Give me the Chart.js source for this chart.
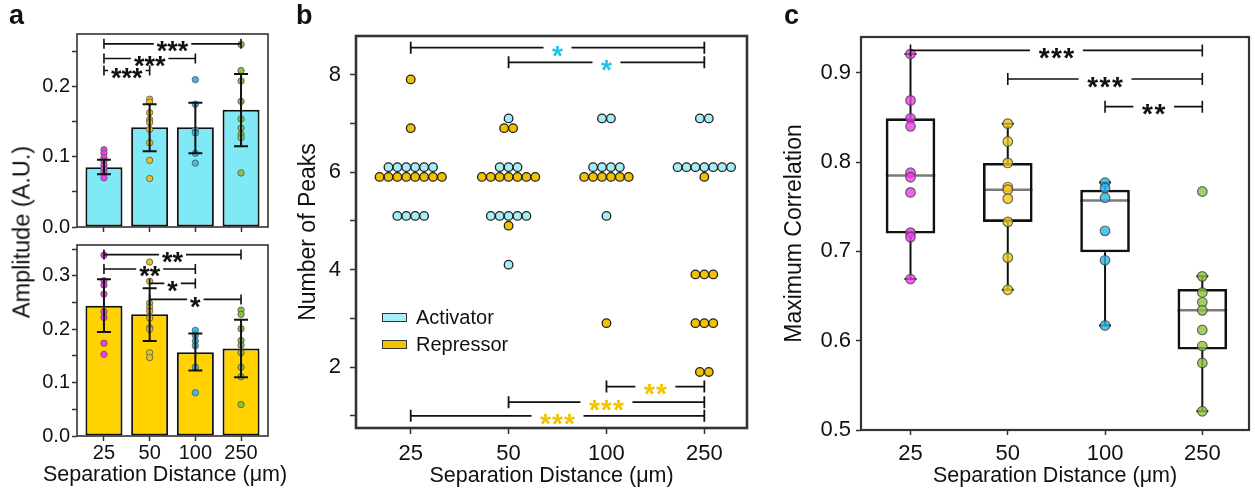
<!DOCTYPE html>
<html>
<head>
<meta charset="utf-8">
<title>Separation distance</title>
<script src="https://cdn.jsdelivr.net/npm/chart.js@4.4.1/dist/chart.umd.min.js"></script>
<style>
  body { margin: 0; background: #fff; }
  #page { position: relative; width: 1255px; height: 489px; overflow: hidden; font-family: "Liberation Sans", Arial, sans-serif; color: #111; }
  #page canvas { position: absolute; left: 0; top: 0; }
  .tag { position: absolute; top: 2px; font-size: 27px; line-height: 27px; font-weight: bold; }
  #ampTitle { position: absolute; left: 22px; top: 232px; font-size: 23.5px; white-space: nowrap; transform: translate(-50%, -50%) rotate(-90deg); }
  #ampXTitle { position: absolute; left: 165px; top: 462px; font-size: 21.5px; line-height: 24px; white-space: nowrap; transform: translateX(-50%); }
  .key { position: absolute; left: 382px; height: 20px; font-size: 20px; line-height: 20px; display: flex; align-items: center; white-space: nowrap; }
  .key i { display: inline-block; width: 23px; height: 7px; border: 1.2px solid #333; margin-right: 9px; }
</style>
</head>
<body>
<div id="page">
  <canvas id="ampAct" width="1255" height="489"></canvas>
  <canvas id="ampRep" width="1255" height="489"></canvas>
  <canvas id="peaks" width="1255" height="489"></canvas>
  <canvas id="corr" width="1255" height="489"></canvas>
  <div class="tag" style="left:9px">a</div>
  <div class="tag" style="left:296px">b</div>
  <div class="tag" style="left:784px">c</div>
  <div id="ampTitle">Amplitude (A.U.)</div>
  <div id="ampXTitle">Separation Distance (μm)</div>
  <div class="key" style="top:307px"><i style="background:#a6edf7"></i>Activator</div>
  <div class="key" style="top:334px"><i style="background:#f2c400"></i>Repressor</div>
</div>
<script>
const W = 1255, H = 489;
const FONT = '"Liberation Sans", Arial, sans-serif';

// shared x categories (separation distance, µm)
const distLabels = ['25', '50', '100', '250'];
const distPos = [1, 2, 3, 4];
const groupColors = ['#f03cf0', '#e9c11e', '#35bdec', '#8dc044'];

// a, upper: activator amplitude
const actAmpMean = [0.085, 0.142, 0.142, 0.167];
const actAmpLow = [0.075, 0.108, 0.105, 0.115];
const actAmpHigh = [0.096, 0.175, 0.177, 0.218];
const actAmpPts = [
  [0.110, 0.105, 0.099, 0.094, 0.088, 0.082, 0.077, 0.070],
  [0.182, 0.178, 0.163, 0.153, 0.149, 0.139, 0.120, 0.095, 0.069],
  [0.210, 0.175, 0.138, 0.134, 0.105, 0.091],
  [0.260, 0.223, 0.208, 0.179, 0.154, 0.141, 0.132, 0.127, 0.077]
];
const actAmpTicks = [0, 0.05, 0.1, 0.15, 0.2, 0.25];
const actAmpSig = [[0, 3, 0.261, '***'], [0, 2, 0.240, '***'], [0, 1, 0.223, '***']];

// a, lower: repressor amplitude
const repAmpMean = [0.244, 0.228, 0.157, 0.164];
const repAmpLow = [0.195, 0.178, 0.123, 0.110];
const repAmpHigh = [0.294, 0.277, 0.192, 0.218];
const repAmpPts = [
  [0.339, 0.291, 0.283, 0.266, 0.233, 0.222, 0.174, 0.153],
  [0.326, 0.290, 0.249, 0.241, 0.234, 0.221, 0.203, 0.200, 0.156, 0.147],
  [0.198, 0.189, 0.178, 0.169, 0.129, 0.081],
  [0.236, 0.228, 0.201, 0.179, 0.170, 0.156, 0.129, 0.111, 0.059]
];
const repAmpTicks = [0, 0.05, 0.1, 0.15, 0.2, 0.25, 0.3, 0.35];
const repAmpSig = [[0, 3, 0.340, '**'], [0, 2, 0.313, '**'], [1, 2, 0.286, '*'], [1, 3, 0.256, '*']];

// b: number of peaks per sample
const actPeaks = [
  [6, 6, 6, 6, 6, 6, 5, 5, 5, 5],
  [7, 6, 6, 6, 5, 5, 5, 5, 5, 4],
  [7, 7, 6, 6, 6, 6, 5],
  [7, 7, 6, 6, 6, 6, 6, 6, 6]
];
const repPeaks = [
  [8, 7, 6, 6, 6, 6, 6, 6, 6, 6],
  [7, 7, 6, 6, 6, 6, 6, 6, 6, 5],
  [6, 6, 6, 6, 6, 6, 3],
  [6, 4, 4, 4, 3, 3, 3, 2, 2]
];
const peakTicks = [1, 2, 3, 4, 5, 6, 7, 8];
const peakSig = [
  [0, 3, 8.55, '*', '#22c6e6'], [1, 3, 8.25, '*', '#22c6e6'],
  [2, 3, 1.60, '**', '#f0c400'], [1, 3, 1.28, '***', '#f0c400'], [0, 3, 1.00, '***', '#f0c400']
];

// c: maximum correlation
const corrPts = [
  [0.921, 0.869, 0.849, 0.840, 0.788, 0.783, 0.766, 0.721, 0.716, 0.669],
  [0.843, 0.823, 0.799, 0.772, 0.769, 0.759, 0.733, 0.693, 0.657],
  [0.777, 0.771, 0.760, 0.723, 0.690, 0.617],
  [0.767, 0.672, 0.654, 0.643, 0.634, 0.612, 0.594, 0.575, 0.521]
];
const corrQ1 = [0.720, 0.733, 0.699, 0.590];
const corrMedian = [0.785, 0.769, 0.757, 0.634];
const corrQ3 = [0.849, 0.799, 0.769, 0.658];
const corrWhiskLow = [0.669, 0.657, 0.617, 0.521];
const corrWhiskHigh = [0.921, 0.843, 0.777, 0.672];
const corrTicks = [0.5, 0.6, 0.7, 0.8, 0.9];
const corrSig = [[0, 3, 0.925, '***'], [1, 3, 0.893, '***'], [2, 3, 0.862, '**']];
const corrColors = ['rgba(240,60,240,0.8)', 'rgba(242,198,24,0.8)', 'rgba(40,182,240,0.8)', 'rgba(140,196,60,0.8)'];

Chart.defaults.font.family = FONT;
Chart.defaults.color = '#111';

// padding that puts the plot area at the given box
function areaPad(l, t, r, b, yw, xh) {
  return { left: l - yw, top: t, right: W - r, bottom: H - b - xh };
}

function xAxis(o) {
  return {
    type: 'linear', min: o.min, max: o.max, offset: false,
    afterBuildTicks: s => { s.ticks = distPos.map(v => ({ value: v })); },
    afterFit: s => { s.height = o.h; },
    border: { display: false },
    grid: { drawOnChartArea: false, drawTicks: true, tickLength: o.tl, tickWidth: 1.5, tickColor: '#333', offset: false },
    ticks: { autoSkip: false, maxRotation: 0, padding: o.pad, font: { size: o.font }, color: '#111',
             callback: (v, i) => o.labels ? distLabels[i] : '' },
    title: o.title
      ? { display: true, text: 'Separation Distance (μm)', font: { size: 21.5 }, color: '#111', padding: { top: 0, bottom: 0 } }
      : { display: false }
  };
}

function yAxis(o) {
  return {
    type: 'linear', min: o.min, max: o.max,
    afterBuildTicks: s => { s.ticks = o.ticks.map(v => ({ value: v })); },
    afterFit: s => { s.width = o.w; },
    border: { display: false },
    grid: { drawOnChartArea: false, drawTicks: true, tickLength: o.tl, tickWidth: 1.5, tickColor: '#333' },
    ticks: { autoSkip: false, padding: o.pad, font: { size: o.font }, color: '#111', callback: o.fmt },
    title: o.title
      ? { display: true, text: o.title, font: { size: 23 }, color: '#111', padding: { top: o.tpad, bottom: 0 } }
      : { display: false }
  };
}

function framePlugin(width) {
  return {
    id: 'frame',
    afterDraw(chart) {
      const { ctx, chartArea: a } = chart;
      ctx.save();
      ctx.strokeStyle = '#333';
      ctx.lineWidth = width;
      ctx.strokeRect(a.left, a.top, a.right - a.left, a.bottom - a.top);
      ctx.restore();
    }
  };
}

// significance brackets: [fromIndex, toIndex, level, stars, colour]
function bracketPlugin(rows, st) {
  return {
    id: 'brackets',
    afterDatasetsDraw(chart) {
      const { ctx, scales: { x, y } } = chart;
      ctx.save();
      ctx.lineWidth = st.line;
      ctx.strokeStyle = '#111';
      ctx.font = 'bold ' + st.size + 'px ' + FONT;
      ctx.textAlign = 'center';
      ctx.textBaseline = 'alphabetic';
      rows.forEach(([from, to, level, stars, color]) => {
        const x0 = x.getPixelForValue(distPos[from]);
        const x1 = x.getPixelForValue(distPos[to]);
        const py = y.getPixelForValue(level);
        const cx = (x0 + x1) / 2;
        const half = stars.length * st.step / 2 + st.gap;
        ctx.beginPath();
        ctx.moveTo(x0, py); ctx.lineTo(cx - half, py);
        ctx.moveTo(cx + half, py); ctx.lineTo(x1, py);
        ctx.moveTo(x0, py - st.cap); ctx.lineTo(x0, py + st.cap);
        ctx.moveTo(x1, py - st.cap); ctx.lineTo(x1, py + st.cap);
        ctx.stroke();
        ctx.fillStyle = color || '#111';
        for (let i = 0; i < stars.length; i++) {
          ctx.fillText('*', cx - (stars.length - 1) * st.step / 2 + i * st.step, py + st.size * st.drop);
        }
      });
      ctx.restore();
    }
  };
}

function errorBarPlugin(lo, hi) {
  return {
    id: 'errorBars',
    afterDatasetsDraw(chart) {
      const { ctx, scales: { x, y } } = chart;
      ctx.save();
      ctx.strokeStyle = '#111';
      ctx.lineWidth = 2;
      distPos.forEach((p, i) => {
        const px = x.getPixelForValue(p);
        const y0 = y.getPixelForValue(lo[i]), y1 = y.getPixelForValue(hi[i]);
        ctx.beginPath();
        ctx.moveTo(px, y0); ctx.lineTo(px, y1);
        ctx.moveTo(px - 7, y0); ctx.lineTo(px + 7, y0);
        ctx.moveTo(px - 7, y1); ctx.lineTo(px + 7, y1);
        ctx.stroke();
      });
      ctx.restore();
    }
  };
}

function ampChart(id, box, xh, withLabels, mean, lo, hi, pts, barColor, yMax, ticks, sig) {
  const dots = pts.map((vals, g) => ({
    type: 'scatter',
    data: vals.map(v => ({ x: distPos[g], y: v })),
    pointRadius: 3.2, pointBorderWidth: 0.8,
    pointBackgroundColor: groupColors[g], pointBorderColor: '#555',
    order: 0
  }));
  new Chart(document.getElementById(id), {
    type: 'bar',
    data: {
      datasets: dots.concat([{
        type: 'bar',
        data: mean.map((v, i) => ({ x: distPos[i], y: v })),
        backgroundColor: barColor, borderColor: '#111', borderWidth: 2, borderSkipped: false,
        barPercentage: 0.81, categoryPercentage: 1, order: 1
      }])
    },
    options: {
      responsive: false, animation: false, devicePixelRatio: 1,
      layout: { padding: areaPad(box[0], box[1], box[2], box[3], 70, xh) },
      plugins: { legend: { display: false }, tooltip: { enabled: false } },
      scales: {
        x: xAxis({ min: 0.41, max: 4.59, h: xh, tl: 5, pad: 0, font: 20, labels: withLabels, title: false }),
        y: yAxis({ min: 0, max: yMax, ticks: ticks, w: 70, tl: 5, pad: 2, font: 20,
                   fmt: v => (Math.round(v * 100) % 10 === 0 ? v.toFixed(1) : '') })
      }
    },
    plugins: [errorBarPlugin(lo, hi), bracketPlugin(sig, { size: 27, step: 10.5, gap: 3, cap: 5, line: 1.6, drop: 0.6 }), framePlugin(1.6)]
  });
}

ampChart('ampAct', [77, 34, 268, 227], 5, false, actAmpMean, actAmpLow, actAmpHigh, actAmpPts,
         '#7fe9f5', 0.275, actAmpTicks, actAmpSig);
ampChart('ampRep', [77, 245, 268, 436], 53, true, repAmpMean, repAmpLow, repAmpHigh, repAmpPts,
         '#ffd200', 0.358, repAmpTicks, repAmpSig);

// beeswarm layout: equal values in a group are spread sideways
const SWARM_STEP = 0.091;
const PEAK_SHIFT = 0.1;
function swarm(groups, shift) {
  const out = [];
  groups.forEach((vals, g) => {
    const counts = {};
    vals.forEach(v => { counts[v] = (counts[v] || 0) + 1; });
    Object.keys(counts).forEach(k => {
      const n = counts[k];
      for (let j = 0; j < n; j++) {
        out.push({ x: distPos[g] + (j - (n - 1) / 2) * SWARM_STEP, y: Number(k) + shift });
      }
    });
  });
  return out;
}

new Chart(document.getElementById('peaks'), {
  type: 'scatter',
  data: {
    datasets: [
      { label: 'Repressor', data: swarm(repPeaks, -PEAK_SHIFT), pointRadius: 4.3, pointBorderWidth: 1.3,
        pointBackgroundColor: '#f2c200', pointBorderColor: '#222', order: 0 },
      { label: 'Activator', data: swarm(actPeaks, PEAK_SHIFT), pointRadius: 4.3, pointBorderWidth: 1.3,
        pointBackgroundColor: '#a6edf6', pointBorderColor: '#222', order: 1 }
    ]
  },
  options: {
    responsive: false, animation: false, devicePixelRatio: 1,
    layout: { padding: areaPad(356, 36, 747, 428, 70, 61) },
    plugins: { legend: { display: false }, tooltip: { enabled: false } },
    scales: {
      x: xAxis({ min: 0.441, max: 4.436, h: 61, tl: 6, pad: 7, font: 22, labels: true, title: true }),
      y: yAxis({ min: 0.75, max: 8.79, ticks: peakTicks, w: 70, tl: 6, pad: 9, font: 22,
                 fmt: v => (v % 2 === 0 ? String(v) : ''), title: 'Number of Peaks', tpad: 9 })
    }
  },
  plugins: [bracketPlugin(peakSig, { size: 28, step: 12, gap: 8, cap: 6, line: 1.8, drop: 0.6 }), framePlugin(2.6)]
});

// box whiskers and medians, drawn under the boxes and points
const boxLinePlugin = {
  id: 'boxLines',
  beforeDatasetsDraw(chart) {
    const { ctx, scales: { x, y } } = chart;
    const boxes = chart.getDatasetMeta(chart.data.datasets.length - 1).data;
    ctx.save();
    distPos.forEach((p, i) => {
      const px = x.getPixelForValue(p);
      const half = boxes[i].width / 2;
      ctx.strokeStyle = '#111';
      ctx.lineWidth = 2;
      ctx.beginPath();
      ctx.moveTo(px, y.getPixelForValue(corrQ3[i])); ctx.lineTo(px, y.getPixelForValue(corrWhiskHigh[i]));
      ctx.moveTo(px, y.getPixelForValue(corrQ1[i])); ctx.lineTo(px, y.getPixelForValue(corrWhiskLow[i]));
      ctx.moveTo(px - 6, y.getPixelForValue(corrWhiskHigh[i])); ctx.lineTo(px + 6, y.getPixelForValue(corrWhiskHigh[i]));
      ctx.moveTo(px - 6, y.getPixelForValue(corrWhiskLow[i])); ctx.lineTo(px + 6, y.getPixelForValue(corrWhiskLow[i]));
      ctx.stroke();
      ctx.strokeStyle = '#7a7a7a';
      ctx.lineWidth = 2.5;
      ctx.beginPath();
      ctx.moveTo(px - half, y.getPixelForValue(corrMedian[i]));
      ctx.lineTo(px + half, y.getPixelForValue(corrMedian[i]));
      ctx.stroke();
    });
    ctx.restore();
  }
};

new Chart(document.getElementById('corr'), {
  type: 'bar',
  data: {
    datasets: corrPts.map((vals, g) => ({
      type: 'scatter',
      data: vals.map(v => ({ x: distPos[g], y: v })),
      pointRadius: 4.8, pointBorderWidth: 1.2,
      pointBackgroundColor: corrColors[g], pointBorderColor: 'rgba(60,60,60,0.75)',
      order: 0
    })).concat([{
      type: 'bar',
      data: corrQ1.map((q, i) => ({ x: distPos[i], y: [q, corrQ3[i]] })),
      backgroundColor: 'rgba(0,0,0,0)', borderColor: '#111', borderWidth: 2.6, borderSkipped: false,
      barPercentage: 0.51, categoryPercentage: 1, order: 1
    }])
  },
  options: {
    responsive: false, animation: false, devicePixelRatio: 1,
    layout: { padding: areaPad(861, 37, 1253, 430, 80, 59) },
    plugins: { legend: { display: false }, tooltip: { enabled: false } },
    scales: {
      x: xAxis({ min: 0.491, max: 4.48, h: 59, tl: 5, pad: 6, font: 22, labels: true, title: true }),
      y: yAxis({ min: 0.5, max: 0.94, ticks: corrTicks, w: 80, tl: 5, pad: 5, font: 22,
                 fmt: v => v.toFixed(1), title: 'Maximum Correlation', tpad: 0 })
    }
  },
  plugins: [boxLinePlugin, bracketPlugin(corrSig, { size: 28, step: 12.3, gap: 8, cap: 6, line: 1.6, drop: 0.6 }), framePlugin(2.2)]
});
</script>
</body>
</html>
